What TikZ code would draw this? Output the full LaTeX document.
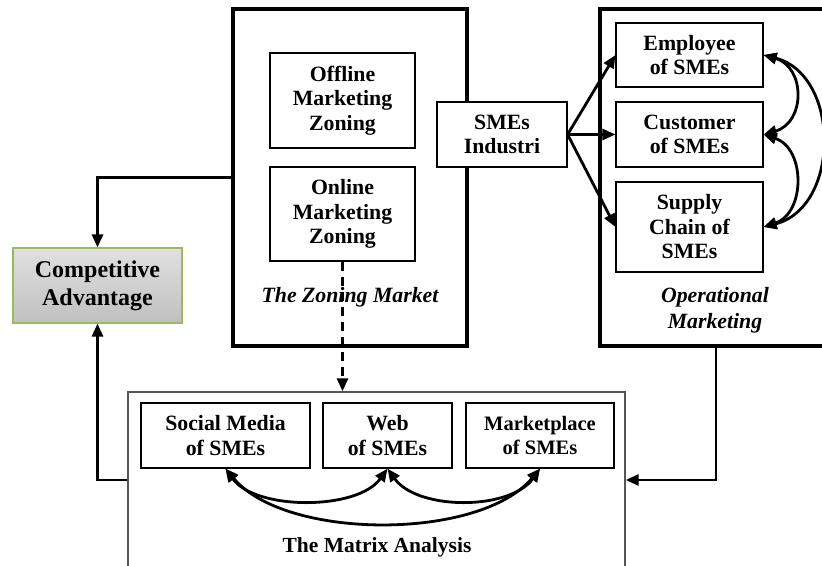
\documentclass[tikz,border=0pt]{standalone}
\usepackage{fontspec}
\setmainfont{Liberation Serif}
\usetikzlibrary{arrows.meta}
\definecolor{gtop}{RGB}{224,224,224}
\definecolor{gbot}{RGB}{192,192,192}
\definecolor{gborder}{RGB}{155,187,89}
\definecolor{mgray}{RGB}{85,85,85}
\begin{document}
\begin{tikzpicture}[x=1pt,y=-1pt,
  box/.style={draw, line width=1.2pt, fill=white, align=center, inner sep=0pt, font=\bfseries\fontsize{21.8}{24.5}\selectfont},
  bigbox/.style={draw, line width=3.3pt, inner sep=0pt},
  arr/.style={line width=2.8pt, -{Triangle[length=13pt,width=11pt]}},
  dbl/.style={line width=2.8pt, {Triangle[length=13pt,width=11pt]}-{Triangle[length=13pt,width=11pt]}},
  lbl/.style={font=\bfseries\itshape\fontsize{21.8}{26}\selectfont, align=center, inner sep=0pt}
]
\useasboundingbox (0,0) rectangle (822,565);
\clip (0,0) rectangle (822,565);

% big frames
\node[bigbox, minimum width=234pt, minimum height=337pt] (zoning) at (350,177.5) {};
\node[bigbox, minimum width=232pt, minimum height=337pt] (oper) at (716,177.5) {};
\node[draw=mgray, line width=1.4pt, inner sep=0pt, minimum width=497pt, minimum height=176pt] (matrix) at (376.5,480) {};

% zoning market
\node[box, minimum width=145pt, minimum height=95pt] (offline) at (342.5,100.5) {Offline\\Marketing\\Zoning};
\node[box, minimum width=145pt, minimum height=94pt] (online) at (342.5,214) {Online\\Marketing\\Zoning};
\node[lbl] (zonlbl) at (350,297) {The Zoning Market};

% SMEs industri
\node[box, minimum width=130pt, minimum height=65pt] (smes) at (502,134.5) {SMEs\\Industri};

% operational marketing
\node[box, minimum width=147pt, minimum height=64pt] (emp) at (689.5,55) {Employee\\of SMEs};
\node[box, minimum width=147pt, minimum height=65pt] (cust) at (689.5,134.5) {Customer\\of SMEs};
\node[box, minimum width=147pt, minimum height=90pt] (sup) at (689.5,227) {Supply\\Chain of\\SMEs};
\node[lbl] (oplbl) at (715,310) {Operational\\Marketing};

% competitive advantage
\node[draw=gborder, line width=1.2pt, top color=gtop, bottom color=gbot, align=center, inner sep=0pt,
      minimum width=169pt, minimum height=75pt, font=\bfseries\fontsize{24}{28}\selectfont] (comp) at (97.5,285.5) {Competitive\\Advantage};

% matrix analysis
\node[box, minimum width=169pt, minimum height=65pt] (social) at (225.5,435.5) {Social Media\\of SMEs};
\node[box, minimum width=129pt, minimum height=65pt] (web) at (387.5,435.5) {Web\\of SMEs};
\node[box, minimum width=148pt, minimum height=65pt, font=\bfseries\fontsize{20.5}{24.5}\selectfont] (market) at (540,435.5) {Marketplace\\of SMEs};
\node[font=\bfseries\fontsize{21.5}{24.5}\selectfont, inner sep=0pt] (matlbl) at (377,547) {The Matrix Analysis};

% connectors
\draw[arr] (smes.east) -- (emp.west);
\draw[arr] (smes.east) -- (cust.west);
\draw[arr] (smes.east) -- (sup.west);

\draw[dbl] (emp.east) .. controls +(42,12) and +(42,-12) .. (cust.east);
\draw[dbl] (cust.east) .. controls +(42,14) and +(42,-14) .. (sup.east);
\draw[dbl] (emp.east) .. controls +(77,20) and +(77,-20) .. (sup.east);

\draw[arr] (zoning.west) -| (comp.north);
\draw[arr] (matrix.west) -| (comp.south);
\draw[arr] (oper.south) |- (matrix.east);
\draw[arr, dash pattern=on 9pt off 6pt, -{Triangle[length=13pt,width=11pt]}] (online.south) -- (online.south |- matrix.north);

\draw[dbl] (social.south) .. controls +(30,42) and +(-30,42) .. (web.south);
\draw[dbl] (web.south) .. controls +(30,42) and +(-30,42) .. (market.south);
\draw[dbl] (social.south) .. controls +(60,72) and +(-60,72) .. (market.south);
\end{tikzpicture}
\end{document}
